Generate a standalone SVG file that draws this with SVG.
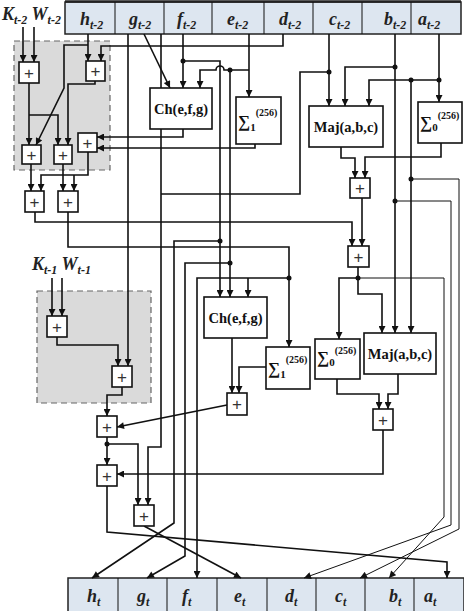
<svg xmlns="http://www.w3.org/2000/svg" width="464" height="611" viewBox="0 0 464 611">
<defs>
<marker id="ar" viewBox="0 0 10 10" refX="10" refY="5" markerWidth="8" markerHeight="7" orient="auto" markerUnits="userSpaceOnUse"><path d="M0,0 L10,5 L0,10 z" fill="#111"/></marker>
<style>
.ln{fill:none;stroke:#111;stroke-width:1.6}
.th{fill:none;stroke:#111;stroke-width:1}
.bx{fill:#fff;stroke:#111;stroke-width:1.6}
.grey{fill:#dadada;stroke:#666;stroke-width:1.2;stroke-dasharray:6,4}
.reg{fill:#dde6f0;stroke:#222;stroke-width:1.5}
.lab{font-family:"Liberation Serif",serif;font-weight:bold;font-style:italic;font-size:18px;fill:#222}
.sub{font-size:12px}
.fn{font-family:"Liberation Serif",serif;font-weight:bold;font-size:14.5px;fill:#111;text-anchor:middle}
.sig{font-family:"Liberation Serif",serif;font-weight:bold;font-size:17px;fill:#111}
.pl{font-family:"Liberation Sans",sans-serif;font-size:17px;fill:#333;text-anchor:middle}
.dot{fill:#111}
</style>
</defs>
<rect width="464" height="611" fill="#fff"/>

<g id="grey1"><rect class="grey" x="14" y="41" width="96" height="129"/></g>
<g id="grey2"><rect class="grey" x="37" y="291" width="114" height="112"/></g>

<g id="reg-top">
<rect class="reg" x="65" y="2" width="396" height="32"/>
<line x1="65" y1="1.5" x2="461" y2="1.5" stroke="#222" stroke-width="2.5"/>
<path class="th" d="M115,2V34M164,2V34M212,2V34M264,2V34M313,2V34M362,2V34M411,2V34"/>
<text class="lab" x="80" y="25">h<tspan class="sub" dy="4">t-2</tspan></text>
<text class="lab" x="129" y="25">g<tspan class="sub" dy="4">t-2</tspan></text>
<text class="lab" x="177" y="25">f<tspan class="sub" dy="4">t-2</tspan></text>
<text class="lab" x="227" y="25">e<tspan class="sub" dy="4">t-2</tspan></text>
<text class="lab" x="279" y="25">d<tspan class="sub" dy="4">t-2</tspan></text>
<text class="lab" x="329" y="25">c<tspan class="sub" dy="4">t-2</tspan></text>
<text class="lab" x="384" y="25">b<tspan class="sub" dy="4">t-2</tspan></text>
<text class="lab" x="418" y="25">a<tspan class="sub" dy="4">t-2</tspan></text>
</g>

<g id="reg-bottom">
<rect class="reg" x="68" y="578" width="396" height="34"/>
<path class="th" d="M118,578V611M167,578V611M217,578V611M267,578V611M316,578V611M365,578V611M414,578V611"/>
<text class="lab" x="87" y="602">h<tspan class="sub" dy="4">t</tspan></text>
<text class="lab" x="137" y="602">g<tspan class="sub" dy="4">t</tspan></text>
<text class="lab" x="182" y="602">f<tspan class="sub" dy="4">t</tspan></text>
<text class="lab" x="234" y="602">e<tspan class="sub" dy="4">t</tspan></text>
<text class="lab" x="285" y="602">d<tspan class="sub" dy="4">t</tspan></text>
<text class="lab" x="335" y="602">c<tspan class="sub" dy="4">t</tspan></text>
<text class="lab" x="389" y="602">b<tspan class="sub" dy="4">t</tspan></text>
<text class="lab" x="424" y="602">a<tspan class="sub" dy="4">t</tspan></text>
</g>

<g id="kw1"><text class="lab" x="2" y="20">K<tspan class="sub" dy="4">t-2</tspan><tspan dy="-4"> </tspan>W<tspan class="sub" dy="4">t-2</tspan></text></g>
<g id="kw2"><text class="lab" x="32" y="270">K<tspan class="sub" dy="4">t-1</tspan><tspan dy="-4"> </tspan>W<tspan class="sub" dy="4">t-1</tspan></text></g>

<g id="connectors">
<!-- round 1 inputs -->
<path class="ln" d="M23,27V62" marker-end="url(#ar)"/>
<path class="ln" d="M34,27V62" marker-end="url(#ar)"/>
<path class="ln" d="M88,34V61" marker-end="url(#ar)"/>
<path class="ln" d="M88,45H64V88L36,145" marker-end="url(#ar)"/>
<path class="ln" d="M283,34V46H101V61" marker-end="url(#ar)"/>
<path class="ln" d="M29,83V145" marker-end="url(#ar)"/>
<path class="ln" d="M29,115H58V145" marker-end="url(#ar)"/>
<path class="ln" d="M95,81V84H68V145" marker-end="url(#ar)"/>
<path class="ln" d="M144,34L170,88" marker-end="url(#ar)"/>
<path class="ln" d="M183,34V88" marker-end="url(#ar)"/>
<path class="ln" d="M183,61H220V297" marker-end="url(#ar)"/>
<path class="ln" d="M220,241H174V523L92,578" marker-end="url(#ar)"/>
<path class="ln" d="M249,34V97" marker-end="url(#ar)"/>
<path class="ln" d="M249,70H224A4,4 0 0 0 216,70H200V88" marker-end="url(#ar)"/>
<path class="ln" d="M230,70V297" marker-end="url(#ar)"/>
<path class="ln" d="M230,263H185V556L147,578" marker-end="url(#ar)"/>
<path class="ln" d="M183,129V137H97" marker-end="url(#ar)"/>
<path class="ln" d="M255,144V148H97" marker-end="url(#ar)"/>
<path class="ln" d="M88,152V175H41V191" marker-end="url(#ar)"/>
<path class="ln" d="M74,175V191" marker-end="url(#ar)"/>
<path class="ln" d="M31,164V191" marker-end="url(#ar)"/>
<path class="ln" d="M63,164V191" marker-end="url(#ar)"/>
<path class="ln" d="M35,212V222H352V246" marker-end="url(#ar)"/>
<path class="ln" d="M68,212V247H289V347" marker-end="url(#ar)"/>
<path class="ln" d="M289,278H197V578" marker-end="url(#ar)"/>
<path class="ln" d="M248,278V297" marker-end="url(#ar)"/>
<path class="ln" d="M329,34V106" marker-end="url(#ar)"/>
<path class="ln" d="M329,72H300V194H161"/>
<path class="ln" d="M161,34V447H148V505" marker-end="url(#ar)"/>
<path class="ln" d="M128,34V366" marker-end="url(#ar)"/>
<path class="ln" d="M395,34V333" marker-end="url(#ar)"/>
<path class="ln" d="M395,67H345V106" marker-end="url(#ar)"/>
<path class="th" d="M395,201H451V525L304,578" marker-end="url(#ar)"/>
<path class="ln" d="M439,34V102" marker-end="url(#ar)"/>
<path class="ln" d="M439,80H369V106" marker-end="url(#ar)"/>
<path class="ln" d="M411,80V333" marker-end="url(#ar)"/>
<path class="th" d="M411,179H459V529L360,578" marker-end="url(#ar)"/>
<path class="ln" d="M341,147V158H355V178" marker-end="url(#ar)"/>
<path class="ln" d="M441,143V157H365V178" marker-end="url(#ar)"/>
<path class="ln" d="M362,198V246" marker-end="url(#ar)"/>
<path class="ln" d="M358,267V278H339V339" marker-end="url(#ar)"/>
<path class="ln" d="M358,278V294H382V333" marker-end="url(#ar)"/>
<path class="th" d="M358,278H444V517L389,578" marker-end="url(#ar)"/>
<!-- round 2 -->
<path class="ln" d="M52,278V316" marker-end="url(#ar)"/>
<path class="ln" d="M62,278V316" marker-end="url(#ar)"/>
<path class="ln" d="M57,337V345H118V366" marker-end="url(#ar)"/>
<path class="ln" d="M122,387V395H107V416" marker-end="url(#ar)"/>
<path class="ln" d="M232,338V393" marker-end="url(#ar)"/>
<path class="ln" d="M266,367H239V393" marker-end="url(#ar)"/>
<path class="ln" d="M227,405L117,427" marker-end="url(#ar)"/>
<path class="ln" d="M337,379V394H379V409" marker-end="url(#ar)"/>
<path class="ln" d="M398,374V394H388V409" marker-end="url(#ar)"/>
<path class="ln" d="M383,430V474H117" marker-end="url(#ar)"/>
<path class="ln" d="M107,437V465" marker-end="url(#ar)"/>
<path class="ln" d="M107,444H138V505" marker-end="url(#ar)"/>
<path class="ln" d="M107,486V532L447,562V578" marker-end="url(#ar)"/>
<path class="ln" d="M144,526L241,578" marker-end="url(#ar)"/>
<!-- junction dots -->
<circle class="dot" cx="183" cy="61" r="2.5"/>
<circle class="dot" cx="230" cy="70" r="2.5"/>
<circle class="dot" cx="329" cy="72" r="2.5"/>
<circle class="dot" cx="395" cy="67" r="2.5"/>
<circle class="dot" cx="439" cy="80" r="2.5"/>
<circle class="dot" cx="411" cy="80" r="2.5"/>
<circle class="dot" cx="411" cy="179" r="2.5"/>
<circle class="dot" cx="395" cy="201" r="2.5"/>
<circle class="dot" cx="220" cy="241" r="2.5"/>
<circle class="dot" cx="230" cy="263" r="2.5"/>
<circle class="dot" cx="289" cy="278" r="2.5"/>
<circle class="dot" cx="358" cy="278" r="2.5"/>
<circle class="dot" cx="107" cy="444" r="2.5"/>
</g>

<g id="add1"><rect class="bx" x="19" y="62" width="20" height="21"/><text class="pl" x="29" y="78.5">+</text></g>
<g id="add2"><rect class="bx" x="86" y="61" width="19" height="20"/><text class="pl" x="95.5" y="77">+</text></g>
<g id="add3"><rect class="bx" x="22" y="145" width="19" height="19"/><text class="pl" x="31.5" y="160.5">+</text></g>
<g id="add4"><rect class="bx" x="54" y="145" width="18" height="19"/><text class="pl" x="63" y="160.5">+</text></g>
<g id="add5"><rect class="bx" x="78" y="133" width="19" height="19"/><text class="pl" x="87.5" y="148.5">+</text></g>
<g id="add6"><rect class="bx" x="25" y="191" width="19" height="21"/><text class="pl" x="34.5" y="207.5">+</text></g>
<g id="add7"><rect class="bx" x="58" y="191" width="20" height="21"/><text class="pl" x="68" y="207.5">+</text></g>
<g id="addT2a"><rect class="bx" x="350" y="178" width="20" height="20"/><text class="pl" x="360" y="194">+</text></g>
<g id="addA1"><rect class="bx" x="348" y="246" width="21" height="21"/><text class="pl" x="358.5" y="262.5">+</text></g>
<g id="addB1"><rect class="bx" x="47" y="316" width="20" height="21"/><text class="pl" x="57" y="332.5">+</text></g>
<g id="addB2"><rect class="bx" x="112" y="366" width="20" height="21"/><text class="pl" x="122" y="382.5">+</text></g>
<g id="addCS2"><rect class="bx" x="227" y="393" width="20" height="22"/><text class="pl" x="237" y="410">+</text></g>
<g id="add8"><rect class="bx" x="97" y="416" width="20" height="21"/><text class="pl" x="107" y="432.5">+</text></g>
<g id="add9"><rect class="bx" x="97" y="465" width="20" height="21"/><text class="pl" x="107" y="481.5">+</text></g>
<g id="add10"><rect class="bx" x="134" y="505" width="20" height="21"/><text class="pl" x="144" y="521.5">+</text></g>
<g id="addT2b"><rect class="bx" x="373" y="409" width="20" height="21"/><text class="pl" x="383" y="425.5">+</text></g>

<g id="ch1"><rect class="bx" x="150" y="88" width="62" height="41"/><text class="fn" x="181" y="114">Ch(e,f,g)</text></g>
<g id="sig1a"><rect class="bx" x="236" y="97" width="45" height="47"/><text class="sig" x="238" y="127">∑<tspan font-size="11" dy="4">1</tspan><tspan font-size="10" dy="-15">(256)</tspan></text></g>
<g id="maj1"><rect class="bx" x="309" y="106" width="74" height="41"/><text class="fn" x="346" y="132">Maj(a,b,c)</text></g>
<g id="sig0a"><rect class="bx" x="418" y="102" width="44" height="41"/><text class="sig" x="420" y="128">∑<tspan font-size="11" dy="3">0</tspan><tspan font-size="10" dy="-12">(256)</tspan></text></g>
<g id="ch2"><rect class="bx" x="204" y="297" width="63" height="41"/><text class="fn" x="235.5" y="323">Ch(e,f,g)</text></g>
<g id="sig1b"><rect class="bx" x="266" y="347" width="44" height="42"/><text class="sig" x="268" y="374">∑<tspan font-size="11" dy="4">1</tspan><tspan font-size="10" dy="-15">(256)</tspan></text></g>
<g id="sig0b"><rect class="bx" x="315" y="339" width="45" height="40"/><text class="sig" x="317" y="363">∑<tspan font-size="11" dy="3">0</tspan><tspan font-size="10" dy="-12">(256)</tspan></text></g>
<g id="maj2"><rect class="bx" x="364" y="333" width="72" height="41"/><text class="fn" x="400" y="359">Maj(a,b,c)</text></g>
</svg>
